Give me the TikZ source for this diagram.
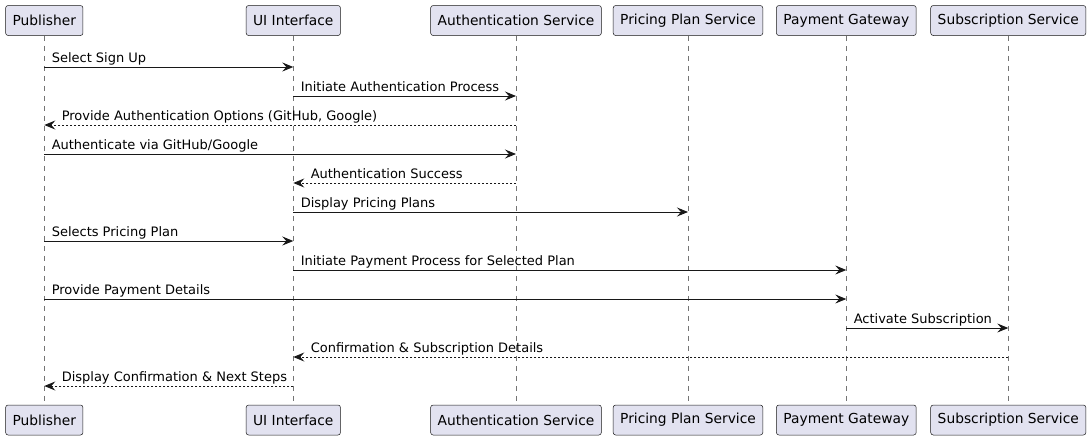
\documentclass[tikz,border=0pt]{standalone}
\usepackage{fontspec}
\setmainfont{DejaVu Sans}
\usetikzlibrary{arrows.meta}
\definecolor{ink}{HTML}{181818}
\definecolor{lilac}{HTML}{E2E2F0}

\begin{document}
\begin{tikzpicture}[x=1pt,y=-1pt,>={Stealth[length=11pt,width=9pt,inset=4pt]},
 actor/.style={draw=ink,line width=0.5pt,rounded corners=2.5pt,fill=lilac,
 minimum height=30pt,inner xsep=7pt,font=\fontsize{13.8}{16}\selectfont},
 life/.style={draw=ink!60,line width=0.5pt,dash pattern=on 5pt off 5pt},
 msg/.style={draw=ink,line width=0.9pt,->},
 ret/.style={draw=ink,line width=0.9pt,->,dash pattern=on 2pt off 2pt},
 lbl/.style={anchor=base west,inner sep=0pt,yshift=5pt,
 font=\fontsize{13}{15}\selectfont}]
\useasboundingbox (0,0) rectangle (1092,440);
% participants, top and bottom
\foreach \n/\x/\t in {pub/44.3/Publisher,ui/293.3/UI Interface,
 auth/516/Authentication Service,price/688/Pricing Plan Service,
 pay/846.3/Payment Gateway,sub/1008.3/Subscription Service}
{
 \node[actor] (\n T) at (\x,20.5) {\t};
 \node[actor] (\n B) at (\x,420) {\t};
 \draw[life] (\n T) -- (\n B);
}
% message rows
\foreach \i in {1,...,12}
 \coordinate (m\i) at (0,{67+29*(\i-1)});
\draw[msg] (pubT |- m1) -- (uiT |- m1)
 node[lbl,pos=0,xshift=7pt] {Select Sign Up};
\draw[msg] (uiT |- m2) -- (authT |- m2)
 node[lbl,pos=0,xshift=7pt] {Initiate Authentication Process};
\draw[ret] (authT |- m3) -- (pubT |- m3)
 node[lbl,pos=1,xshift=17pt] {Provide Authentication Options (GitHub, Google)};
\draw[msg] (pubT |- m4) -- (authT |- m4)
 node[lbl,pos=0,xshift=7pt] {Authenticate via GitHub/Google};
\draw[ret] (authT |- m5) -- (uiT |- m5)
 node[lbl,pos=1,xshift=17pt] {Authentication Success};
\draw[msg] (uiT |- m6) -- (priceT |- m6)
 node[lbl,pos=0,xshift=7pt] {Display Pricing Plans};
\draw[msg] (pubT |- m7) -- (uiT |- m7)
 node[lbl,pos=0,xshift=7pt] {Selects Pricing Plan};
\draw[msg] (uiT |- m8) -- (payT |- m8)
 node[lbl,pos=0,xshift=7pt] {Initiate Payment Process for Selected Plan};
\draw[msg] (pubT |- m9) -- (payT |- m9)
 node[lbl,pos=0,xshift=7pt] {Provide Payment Details};
\draw[msg] (payT |- m10) -- (subT |- m10)
 node[lbl,pos=0,xshift=7pt] {Activate Subscription};
\draw[ret] (subT |- m11) -- (uiT |- m11)
 node[lbl,pos=1,xshift=17pt] {Confirmation \& Subscription Details};
\draw[ret] (uiT |- m12) -- (pubT |- m12)
 node[lbl,pos=1,xshift=17pt] {Display Confirmation \& Next Steps};
\end{tikzpicture}
\end{document}
